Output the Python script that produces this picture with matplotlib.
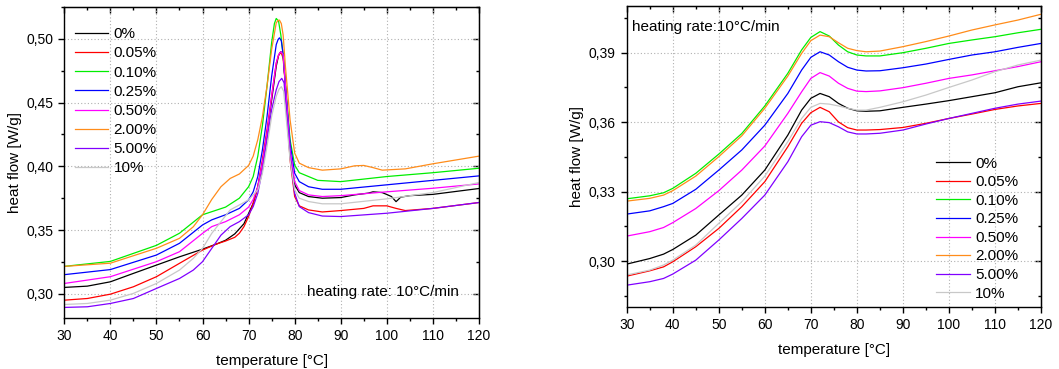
import numpy as np
import matplotlib
matplotlib.use('Agg')
import matplotlib.pyplot as plt
from matplotlib.ticker import MultipleLocator, FuncFormatter

plt.rcParams['font.family'] = ['Liberation Sans', 'DejaVu Sans']

labels = ['0%', '0.05%', '0.10%', '0.25%', '0.50%', '2.00%', '5.00%', '10%']
colors = ['#000000', '#ff0000', '#00ee00', '#0000ff', '#ff00ff', '#ff8c1a', '#8000ff', '#c8c8c8']

# ---- left panel: heat flow vs temperature ----
left_T = {
    '0%':    [30, 35, 40, 45, 50, 55, 60, 63, 65, 67, 69, 70, 71, 72, 73, 74, 75, 76, 76.5, 77, 77.5, 78, 79, 80, 81, 83, 86, 90, 93, 96, 97, 99, 100, 101, 102, 102.5, 103, 105, 110, 120],
    '0.05%': [30, 35, 40, 45, 50, 55, 60, 63, 65, 67, 68, 69, 70, 71, 72, 73, 74, 75, 76, 76.5, 76.8, 77.2, 77.5, 78, 79, 80, 81, 83, 86, 90, 95, 97, 100, 102, 104, 110, 120],
    '0.10%': [30, 40, 50, 55, 60, 65, 68, 70, 71, 72, 73, 74, 75, 75.6, 76, 76.5, 77, 77.5, 78, 79, 80, 81, 85, 90, 100, 110, 120],
    '0.25%': [30, 40, 50, 55, 60, 62, 65, 68, 70, 71, 72, 73, 74, 75, 76, 76.4, 76.7, 77.1, 77.5, 78, 79, 80, 81, 83, 86, 90, 100, 110, 120],
    '0.50%': [30, 40, 50, 55, 60, 62, 65, 68, 70, 71, 72, 73, 74, 75, 76, 76.5, 77, 77.5, 78, 79, 80, 81, 83, 86, 90, 100, 110, 120],
    '2.00%': [30, 40, 50, 55, 58, 60, 62, 64, 66, 68, 70, 71, 72, 73, 74, 75, 76, 76.4, 76.7, 77.1, 77.5, 78, 79, 80, 81, 83, 86, 90, 93, 95, 97, 99, 104, 110, 120],
    '5.00%': [30, 35, 40, 45, 50, 55, 58, 60, 62, 64, 66, 68, 70, 71, 72, 73, 74, 75, 76, 76.6, 77.2, 77.7, 78, 79, 80, 81, 83, 86, 90, 100, 104, 110, 120],
    '10%':   [30, 35, 40, 45, 50, 55, 58, 60, 62, 64, 66, 68, 70, 72, 73, 74, 75, 76, 76.6, 77.1, 77.6, 78, 79, 80, 81, 83, 86, 90, 100, 110, 120],
}
left_Q = {
    '0%':    [0.305, 0.306, 0.3094, 0.316, 0.3225, 0.329, 0.335, 0.339, 0.342, 0.347, 0.355, 0.363, 0.371, 0.384, 0.403, 0.426, 0.452, 0.4785, 0.487, 0.490, 0.4877, 0.4628, 0.4104, 0.3855, 0.3794, 0.3763, 0.375, 0.3755, 0.3776, 0.379, 0.380, 0.3794, 0.3779, 0.3763, 0.3723, 0.374, 0.3758, 0.377, 0.378, 0.3826],
    '0.05%': [0.295, 0.2963, 0.2997, 0.3055, 0.3134, 0.3239, 0.3343, 0.339, 0.3414, 0.3443, 0.3475, 0.3527, 0.3606, 0.371, 0.384, 0.405, 0.4287, 0.455, 0.481, 0.487, 0.489, 0.488, 0.4845, 0.4628, 0.405, 0.3763, 0.369, 0.3658, 0.3642, 0.3653, 0.367, 0.369, 0.369, 0.367, 0.3653, 0.367, 0.3716],
    '0.10%': [0.3215, 0.3254, 0.338, 0.3475, 0.362, 0.368, 0.375, 0.384, 0.392, 0.408, 0.432, 0.463, 0.497, 0.512, 0.516, 0.514, 0.503, 0.487, 0.465, 0.421, 0.401, 0.395, 0.389, 0.388, 0.392, 0.395, 0.3985],
    '0.25%': [0.315, 0.319, 0.3304, 0.3396, 0.354, 0.358, 0.362, 0.367, 0.3737, 0.380, 0.392, 0.413, 0.439, 0.4706, 0.4955, 0.4995, 0.5008, 0.4985, 0.488, 0.463, 0.418, 0.3946, 0.388, 0.384, 0.382, 0.382, 0.3855, 0.389, 0.3925],
    '0.50%': [0.3081, 0.3134, 0.3252, 0.333, 0.3474, 0.3527, 0.3566, 0.362, 0.368, 0.374, 0.384, 0.403, 0.426, 0.455, 0.481, 0.4875, 0.490, 0.4877, 0.4628, 0.413, 0.388, 0.381, 0.3776, 0.3763, 0.377, 0.380, 0.3828, 0.3862],
    '2.00%': [0.3215, 0.324, 0.3357, 0.3435, 0.3526, 0.362, 0.374, 0.384, 0.3905, 0.394, 0.4007, 0.408, 0.421, 0.439, 0.463, 0.4916, 0.5126, 0.5145, 0.5147, 0.512, 0.503, 0.478, 0.4366, 0.4104, 0.4025, 0.399, 0.397, 0.398, 0.4004, 0.4007, 0.399, 0.397, 0.398, 0.402, 0.408],
    '5.00%': [0.2893, 0.2898, 0.2924, 0.2963, 0.3042, 0.312, 0.3186, 0.3252, 0.3356, 0.346, 0.3527, 0.3566, 0.362, 0.3684, 0.3789, 0.3973, 0.4209, 0.4444, 0.460, 0.4665, 0.469, 0.4655, 0.4523, 0.408, 0.3789, 0.3684, 0.3637, 0.361, 0.3606, 0.3632, 0.3647, 0.367, 0.3716],
    '10%':   [0.2916, 0.2924, 0.295, 0.3003, 0.3081, 0.3186, 0.3278, 0.3356, 0.3474, 0.3566, 0.3658, 0.3697, 0.3737, 0.3815, 0.3947, 0.4157, 0.4392, 0.455, 0.4605, 0.4625, 0.459, 0.4444, 0.405, 0.3815, 0.375, 0.3724, 0.3706, 0.3706, 0.3745, 0.3794, 0.3873],
}

# ---- right panel ----
right_T = [30, 35, 38, 40, 45, 50, 55, 60, 65, 68, 70, 72, 74, 76, 78, 80, 82, 85, 90, 95, 100, 105, 110, 115, 120]
right_Q = {
    '0%':    [0.2987, 0.3011, 0.303, 0.305, 0.3112, 0.3199, 0.3285, 0.3393, 0.3544, 0.3652, 0.3703, 0.3724, 0.371, 0.3681, 0.366, 0.3649, 0.3647, 0.3649, 0.3664, 0.3678, 0.3693, 0.371, 0.3727, 0.3753, 0.377],
    '0.05%': [0.2935, 0.2958, 0.2975, 0.2997, 0.3062, 0.3141, 0.3235, 0.3343, 0.3494, 0.3595, 0.3641, 0.3664, 0.3645, 0.3601, 0.3576, 0.3566, 0.3566, 0.3568, 0.3577, 0.3595, 0.3616, 0.3635, 0.3655, 0.367, 0.3681],
    '0.10%': [0.3269, 0.3282, 0.3295, 0.3314, 0.3379, 0.3462, 0.3551, 0.367, 0.3811, 0.3912, 0.3966, 0.3991, 0.3972, 0.3933, 0.3904, 0.389, 0.3886, 0.3886, 0.390, 0.3919, 0.394, 0.3955, 0.3969, 0.3986, 0.4001],
    '0.25%': [0.3203, 0.3217, 0.3235, 0.3249, 0.331, 0.3393, 0.348, 0.3587, 0.3724, 0.3825, 0.388, 0.3904, 0.389, 0.3861, 0.3837, 0.3825, 0.3821, 0.3822, 0.3835, 0.3851, 0.3871, 0.389, 0.3904, 0.3923, 0.394],
    '0.50%': [0.3108, 0.3127, 0.3145, 0.3166, 0.3227, 0.3304, 0.3393, 0.3497, 0.3638, 0.3731, 0.3789, 0.3814, 0.3799, 0.3768, 0.3746, 0.3734, 0.3732, 0.3735, 0.3749, 0.3768, 0.3789, 0.3804, 0.3822, 0.384, 0.3861],
    '2.00%': [0.3259, 0.3271, 0.3285, 0.3304, 0.3367, 0.3451, 0.3541, 0.366, 0.3799, 0.3897, 0.3952, 0.3976, 0.3969, 0.3943, 0.3919, 0.3909, 0.3904, 0.3907, 0.3926, 0.3948, 0.3972, 0.3998, 0.402, 0.4041, 0.4066],
    '5.00%': [0.2896, 0.2911, 0.2925, 0.2944, 0.3004, 0.3091, 0.3184, 0.3285, 0.3429, 0.3537, 0.3587, 0.3602, 0.3598, 0.358, 0.3558, 0.3549, 0.3549, 0.3552, 0.3566, 0.3592, 0.3616, 0.3638, 0.366, 0.3678, 0.3691],
    '10%':   [0.294, 0.2961, 0.2983, 0.3004, 0.3069, 0.3163, 0.3256, 0.3367, 0.3516, 0.3616, 0.3664, 0.3681, 0.3678, 0.367, 0.366, 0.3652, 0.3652, 0.3664, 0.3688, 0.3717, 0.375, 0.3782, 0.3818, 0.3847, 0.3868],
}

fig = plt.figure(figsize=(10.59, 3.69), dpi=100)
ax1 = fig.add_axes([0.0607, 0.1382, 0.3916, 0.8428])
ax2 = fig.add_axes([0.5918, 0.1688, 0.3912, 0.8158])

comma = FuncFormatter(lambda v, p: ('%.2f' % v).replace('.', ','))


def style(ax, ymajor, yminor, ylim, xpad):
    ax.set_xlim(30, 120)
    ax.set_ylim(*ylim)
    ax.xaxis.set_major_locator(MultipleLocator(10))
    ax.xaxis.set_minor_locator(MultipleLocator(5))
    ax.yaxis.set_major_locator(MultipleLocator(ymajor))
    ax.yaxis.set_minor_locator(MultipleLocator(yminor))
    ax.yaxis.set_major_formatter(comma)
    ax.grid(True, which='major', color='#b0b0b0', linestyle=(0, (1, 2)), linewidth=0.8)
    ax.tick_params(which='major', direction='out', length=4, width=1, labelsize=10, pad=4)
    ax.tick_params(which='minor', direction='out', length=2.5, width=1)
    for sp in ax.spines.values():
        sp.set_linewidth(1)
    # inward ticks on top and right, like the original software
    top = ax.secondary_xaxis('top')
    top.xaxis.set_major_locator(MultipleLocator(10))
    top.xaxis.set_minor_locator(MultipleLocator(5))
    top.tick_params(which='major', direction='in', length=4, width=1, labeltop=False)
    top.tick_params(which='minor', direction='in', length=2.5, width=1)
    right = ax.secondary_yaxis('right')
    right.yaxis.set_major_locator(MultipleLocator(ymajor))
    right.yaxis.set_minor_locator(MultipleLocator(yminor))
    right.tick_params(which='major', direction='in', length=4, width=1, labelright=False)
    right.tick_params(which='minor', direction='in', length=2.5, width=1)
    ax.set_xlabel('temperature [°C]', fontsize=11, labelpad=xpad)
    ax.set_ylabel('heat flow [W/g]', fontsize=11, labelpad=3)


leg_kw = dict(frameon=False, fontsize=11, handlelength=2.2, handletextpad=0.35)

for lab, col in zip(labels, colors):
    ax1.plot(left_T[lab], left_Q[lab], color=col, lw=0.9, label=lab)
style(ax1, 0.05, 0.025, (0.281, 0.525), 8)
ax1.legend(loc='upper left', bbox_to_anchor=(0.01, 0.955), borderaxespad=0.0,
           labelspacing=0.34, **leg_kw)
ax1.text(0.585, 0.07, 'heating rate: 10°C/min', transform=ax1.transAxes, fontsize=11)

for lab, col in zip(labels, colors):
    ax2.plot(right_T, right_Q[lab], color=col, lw=0.9, label=lab)
style(ax2, 0.03, 0.015, (0.2803, 0.4103), 8)
ax2.legend(loc='lower right', bbox_to_anchor=(0.96, 0.0), borderaxespad=0.0,
           labelspacing=0.3, **leg_kw)
ax2.text(0.012, 0.915, 'heating rate:10°C/min', transform=ax2.transAxes, fontsize=11)

fig.savefig('out.png', dpi=100)
